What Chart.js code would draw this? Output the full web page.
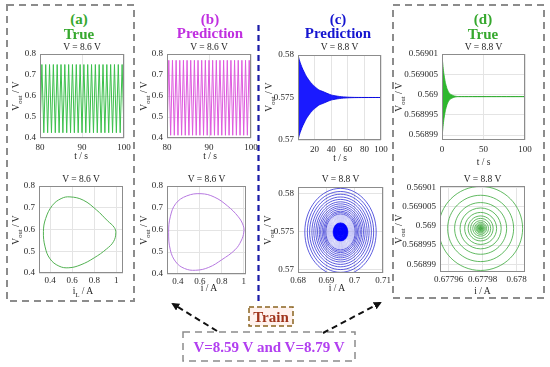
<!DOCTYPE html>
<html>
<head>
<meta charset="utf-8">
<script src="https://cdn.jsdelivr.net/npm/chart.js@4.4.1/dist/chart.umd.min.js"></script>
<style>
  html, body { margin: 0; padding: 0; background: #fff; }
  #fig { position: relative; width: 550px; height: 367px; overflow: hidden; font-family: "Liberation Serif", "DejaVu Serif", serif; }
  #fig canvas, #fig svg { position: absolute; left: 0; top: 0; }
  .lbl { position: absolute; transform: translate(-50%, -50%); white-space: nowrap; color: #262626; font-size: 9.5px; line-height: 1; }
  .ylab { transform: translate(-50%, -50%) rotate(-90deg); }
  .head { position: absolute; transform: translate(-50%, -50%); white-space: nowrap; font-weight: bold; font-size: 15px; line-height: 1; }
  sub { font-size: 70%; vertical-align: -0.35em; line-height: 0; }
</style>
</head>
<body>
<div id="fig">
  <svg width="550" height="367">
    <defs>
      <marker id="head" markerWidth="8" markerHeight="8" refX="6" refY="4" orient="auto" markerUnits="userSpaceOnUse">
        <path d="M0,0 L8,4 L0,8 z" fill="#111"/>
      </marker>
    </defs>
    <rect x="7" y="5" width="127" height="296" fill="none" stroke="#8c8c8c" stroke-width="2" stroke-dasharray="7 5"/>
    <rect x="393" y="5" width="151" height="293" fill="none" stroke="#8c8c8c" stroke-width="2" stroke-dasharray="7 5"/>
    <line x1="258.5" y1="25" x2="258.5" y2="302" stroke="#1c1ca8" stroke-width="2.2" stroke-dasharray="6 4"/>
    <rect x="249" y="307" width="44" height="19" fill="#fff2ee" stroke="#8a6420" stroke-width="1.5" stroke-dasharray="5 3"/>
    <rect x="183" y="332" width="172" height="29" fill="none" stroke="#8c8c8c" stroke-width="1.5" stroke-dasharray="7 5"/>
    <line x1="217" y1="331" x2="173" y2="304" stroke="#111" stroke-width="2" stroke-dasharray="6 4" marker-end="url(#head)"/>
    <line x1="323" y1="333" x2="380" y2="303" stroke="#111" stroke-width="2" stroke-dasharray="6 4" marker-end="url(#head)"/>
  </svg>
</div>
<script>
// ---- data ----

// (a) true waveform, V = 8.6 V (turning points)
const tA = [80.00, 80.45, 80.91, 81.36, 81.82, 82.27, 82.73, 83.18, 83.64, 84.09, 84.55, 85.00, 85.45, 85.91, 86.36,
            86.82, 87.27, 87.73, 88.18, 88.64, 89.09, 89.55, 90.00, 90.45, 90.91, 91.36, 91.82, 92.27, 92.73, 93.18,
            93.64, 94.09, 94.55, 95.00, 95.45, 95.91, 96.36, 96.82, 97.27, 97.73, 98.18, 98.64, 99.09, 99.55, 100.00];
const vA = [0.425, 0.75, 0.425, 0.75, 0.425, 0.75, 0.425, 0.75, 0.425, 0.75, 0.425, 0.75, 0.425, 0.75, 0.425,
            0.75, 0.425, 0.75, 0.425, 0.75, 0.425, 0.75, 0.425, 0.75, 0.425, 0.75, 0.425, 0.75, 0.425, 0.75,
            0.425, 0.75, 0.425, 0.75, 0.425, 0.75, 0.425, 0.75, 0.425, 0.75, 0.425, 0.75, 0.425, 0.75, 0.425];

// (b) predicted waveform, V = 8.6 V
const tB = [80.00, 80.43, 80.87, 81.30, 81.74, 82.17, 82.61, 83.04, 83.48, 83.91, 84.35, 84.78, 85.22, 85.65, 86.09, 86.52,
            86.96, 87.39, 87.83, 88.26, 88.70, 89.13, 89.57, 90.00, 90.43, 90.87, 91.30, 91.74, 92.17, 92.61, 93.04, 93.48,
            93.91, 94.35, 94.78, 95.22, 95.65, 96.09, 96.52, 96.96, 97.39, 97.83, 98.26, 98.70, 99.13, 99.57, 100.00];
const vB = [0.413, 0.77, 0.413, 0.77, 0.413, 0.77, 0.413, 0.77, 0.413, 0.77, 0.413, 0.77, 0.413, 0.77, 0.413, 0.77,
            0.413, 0.77, 0.413, 0.77, 0.413, 0.77, 0.413, 0.77, 0.413, 0.77, 0.413, 0.77, 0.413, 0.77, 0.413, 0.77,
            0.413, 0.77, 0.413, 0.77, 0.413, 0.77, 0.413, 0.77, 0.413, 0.77, 0.413, 0.77, 0.413, 0.77, 0.413];

// (c) predicted, V = 8.8 V: envelope of the decaying oscillation
const tC = [0, 2, 5, 10, 15, 20, 25, 30, 40, 50, 60, 70, 100];
const vCHigh = [0.5800, 0.5793, 0.5785, 0.5775, 0.5768, 0.5763, 0.5759, 0.5757, 0.5753, 0.57512, 0.57504, 0.57501, 0.575];
const vCLow  = [0.5700, 0.5707, 0.5715, 0.5725, 0.5732, 0.5737, 0.5741, 0.5743, 0.5747, 0.57488, 0.57496, 0.57499, 0.575];

// (d) true, V = 8.8 V: envelope
const tD = [0, 2, 4, 6, 8, 10, 15, 20, 100];
const vDHigh = [0.5690095, 0.5690055, 0.569003, 0.5690015, 0.5690006, 0.5690001, 0.56899965, 0.5689995, 0.5689995];
const vDLow  = [0.5689895, 0.5689935, 0.568996, 0.5689975, 0.5689984, 0.5689989, 0.56899935, 0.5689995, 0.5689995];

// phase loops, V = 8.6 V (closed curves, first point not repeated)
const iLoopA = [0.58, 0.70, 0.82, 0.92, 0.98, 0.995, 0.975, 0.91, 0.80, 0.68, 0.57, 0.48, 0.40, 0.355, 0.34, 0.36, 0.42, 0.50];
const vLoopA = [0.750, 0.735, 0.69, 0.64, 0.61, 0.585, 0.545, 0.51, 0.47, 0.438, 0.424, 0.432, 0.465, 0.52, 0.59, 0.65, 0.71, 0.742];
const iLoopB = [0.61, 0.73, 0.85, 0.95, 0.995, 1.0, 0.975, 0.92, 0.80, 0.68, 0.56, 0.46, 0.38, 0.33, 0.315, 0.33, 0.38, 0.48];
const vLoopB = [0.765, 0.75, 0.71, 0.66, 0.62, 0.59, 0.55, 0.51, 0.465, 0.43, 0.417, 0.425, 0.455, 0.51, 0.59, 0.66, 0.72, 0.755];

// rings of the V = 8.8 V portraits: centre and half-extent of each ring
const centerC = [0.695, 0.575];
const ringICOuter = [0.0126, 0.0117, 0.0109, 0.0101, 0.0094, 0.0087, 0.0081, 0.0075, 0.0070, 0.0065, 0.0060, 0.0056, 0.0052];
const ringVCOuter = [0.00572, 0.00531, 0.00495, 0.00459, 0.00427, 0.00395, 0.00368, 0.00341, 0.00318, 0.00295, 0.00272, 0.00254, 0.00236];
const ringICHalo = [0.0049, 0.0046, 0.0043, 0.0040, 0.0037, 0.0034, 0.0031, 0.0028];
const ringVCHalo = [0.00222, 0.00209, 0.00195, 0.00182, 0.00168, 0.00154, 0.00141, 0.00127];
const ringICCore = [0.0026, 0.0024, 0.0022, 0.0020, 0.0018, 0.0016, 0.0014, 0.0012, 0.0010, 0.0008, 0.0006, 0.0004, 0.0002];
const ringVCCore = [0.00118, 0.00109, 0.00100, 0.00091, 0.00082, 0.00073, 0.00064, 0.00054, 0.00045, 0.00036, 0.00027, 0.00018, 0.00009];
const centerD = [0.6779789, 0.5689993];
const ringID = [2.47e-5, 1.94e-5, 1.53e-5, 1.21e-5, 9.4e-6, 7.35e-6, 5.9e-6, 4.6e-6, 3.5e-6, 2.8e-6, 2.2e-6, 1.7e-6, 1.3e-6, 1.0e-6, 7.6e-7, 5.9e-7, 3.5e-7, 1.8e-7];
const ringVD = [1.09e-5, 8.6e-6, 6.7e-6, 5.3e-6, 4.15e-6, 3.24e-6, 2.6e-6, 2.0e-6, 1.56e-6, 1.22e-6, 9.6e-7, 7.5e-7, 5.7e-7, 4.4e-7, 3.4e-7, 2.6e-7, 1.6e-7, 8e-8];

// tick values and labels
const tickT80 = [80, 90, 100],        lblT80 = ['80', '90', '100'];
const tickT20 = [20, 40, 60, 80, 100], lblT20 = ['20', '40', '60', '80', '100'];
const tickT50 = [0, 50, 100],          lblT50 = ['0', '50', '100'];
const tickV4 = [0.4, 0.5, 0.6, 0.7, 0.8], lblV4 = ['0.4', '0.5', '0.6', '0.7', '0.8'];
const tickVC = [0.57, 0.575, 0.58],    lblVC = ['0.57', '0.575', '0.58'];
const tickVD = [0.56899, 0.568995, 0.569, 0.569005, 0.56901];
const lblVD = ['0.56899', '0.568995', '0.569', '0.569005', '0.56901'];
const tickI4 = [0.4, 0.6, 0.8, 1],     lblI4 = ['0.4', '0.6', '0.8', '1'];
const tickIC = [0.68, 0.69, 0.7, 0.71], lblIC = ['0.68', '0.69', '0.7', '0.71'];
const tickID = [0.67796, 0.67798, 0.678], lblID = ['0.67796', '0.67798', '0.678'];

// ---- drawing ----
Chart.defaults.font.family = 'Liberation Serif';
const fig = document.getElementById('fig');
const ML = 48, MR = 14, MT = 8, MB = 22;

const framePlugin = {
  id: 'frame',
  afterDraw(chart) {
    const a = chart.chartArea, ctx = chart.ctx;
    ctx.save();
    ctx.strokeStyle = '#8c8c8c';
    ctx.lineWidth = 1;
    ctx.strokeRect(a.left + 0.5, a.top + 0.5, a.right - a.left - 1, a.bottom - a.top - 1);
    ctx.restore();
  }
};

function axis(min, max, ticks, labels, isX, pad) {
  return {
    type: 'linear', min: min, max: max,
    afterBuildTicks: s => { s.ticks = ticks.map(v => ({ value: v })); },
    afterFit: s => {
      if (isX) s.height = MB; else s.width = ML;
      s.paddingLeft = s.paddingRight = s.paddingTop = s.paddingBottom = 0;
    },
    ticks: { autoSkip: false, maxRotation: 0, padding: pad === undefined ? 4 : pad, color: '#262626',
             font: { size: 9 }, callback: (v, i) => labels[i] },
    grid: { color: '#e4e4e4', lineWidth: 1, drawTicks: false },
    border: { display: false }
  };
}

function zip(xs, ys) { return xs.map((x, i) => ({ x: x, y: ys[i] })); }

// closed curve: wrap one point at each end so the spline is smooth all round,
// the two wrap segments are hidden with hideWrap()
function closedLoop(xs, ys) {
  const n = xs.length;
  const idx = [n - 1].concat(xs.map((_, i) => i), [0, 1]);
  return idx.map(i => ({ x: xs[i], y: ys[i] }));
}
function hideWrap(stride, n) {
  return { borderColor: ctx => {
    const j = ctx.p0DataIndex % stride;
    return (j === 0 || j === n + 1) ? 'rgba(0,0,0,0)' : undefined;
  } };
}
// each ring = its right, top, left and bottom extreme, gaps between rings
function ringLoops(c, ringI, ringV) {
  let pts = [];
  ringI.forEach((a, k) => {
    const b = ringV[k];
    pts = pts.concat(closedLoop([c[0] + a, c[0], c[0] - a, c[0]], [c[1], c[1] + b, c[1], c[1] - b]),
                     [{ x: c[0], y: null }]);
  });
  return pts;
}
function ringSet(c, ringI, ringV, color, width) {
  return { data: ringLoops(c, ringI, ringV), borderColor: color, borderWidth: width, tension: 0.55,
           fill: false, spanGaps: false, segment: hideWrap(8, 4) };
}
function loopSet(xs, ys, color) {
  return { data: closedLoop(xs, ys), borderColor: color, borderWidth: 1, tension: 0.4,
           fill: false, segment: hideWrap(xs.length + 3, xs.length) };
}

function makeChart(rect, datasets, xs, ys) {
  const c = document.createElement('canvas');
  const w = rect[2] + ML + MR, h = rect[3] + MT + MB;
  c.width = w; c.height = h;
  c.style.left = (rect[0] - ML) + 'px';
  c.style.top = (rect[1] - MT) + 'px';
  c.style.width = w + 'px'; c.style.height = h + 'px';
  fig.appendChild(c);
  new Chart(c, {
    type: 'line',
    data: { datasets: datasets },
    options: {
      responsive: false, animation: false, devicePixelRatio: 1,
      layout: { padding: { left: 0, top: MT, right: MR, bottom: 0 } },
      plugins: { legend: { display: false }, tooltip: { enabled: false } },
      elements: { point: { radius: 0 }, line: { capBezierPoints: false } },
      scales: { x: xs, y: ys }
    },
    plugins: [framePlugin]
  });
}

function put(html, x, y, cls, color) {
  const d = document.createElement('div');
  d.className = cls;
  d.innerHTML = html;
  d.style.left = x + 'px';
  d.style.top = y + 'px';
  if (color) d.style.color = color;
  fig.appendChild(d);
}

const green = '#36a82e', purple = '#c02fe0', blue = '#1515d0';

// top row: time series
makeChart([40, 54, 84, 84],
  [{ data: zip(tA, vA), borderColor: '#3cc04c', borderWidth: 1, tension: 0, fill: false }],
  axis(80, 100, tickT80, lblT80, true), axis(0.4, 0.8, tickV4, lblV4, false));
makeChart([167, 54, 84, 84],
  [{ data: zip(tB, vB), borderColor: '#de5ade', borderWidth: 1, tension: 0, fill: false }],
  axis(80, 100, tickT80, lblT80, true), axis(0.4, 0.8, tickV4, lblV4, false));
makeChart([298, 55, 83, 85],
  [{ data: zip(tC, vCHigh), borderColor: '#0000e0', borderWidth: 0.8, tension: 0.2, fill: false },
   { data: zip(tC, vCLow), borderColor: '#0000e0', borderWidth: 0.8, tension: 0.2, fill: '-1', backgroundColor: '#1a1aff' }],
  axis(0, 100, tickT20, lblT20, true), axis(0.57, 0.58, tickVC, lblVC, false));
makeChart([442, 54, 83, 86],
  [{ data: zip(tD, vDHigh), borderColor: '#28a828', borderWidth: 0.8, tension: 0.2, fill: false },
   { data: zip(tD, vDLow), borderColor: '#28a828', borderWidth: 0.8, tension: 0.2, fill: '-1', backgroundColor: '#2eb82e' }],
  axis(0, 100, tickT50, lblT50, true), axis(0.5689888, 0.56901, tickVD, lblVD, false));

// bottom row: phase portraits
makeChart([39, 186, 84, 87], [loopSet(iLoopA, vLoopA, '#52b152')],
  axis(0.3, 1.06, tickI4, lblI4, true, 2), axis(0.4, 0.8, tickV4, lblV4, false));
makeChart([167, 186, 79, 88], [loopSet(iLoopB, vLoopB, '#b678e0')],
  axis(0.3, 1.02, tickI4, lblI4, true, 2), axis(0.4, 0.8, tickV4, lblV4, false));
makeChart([298, 187, 85, 86],
  [ringSet(centerC, ringICOuter, ringVCOuter, '#3434d6', 0.8),
   ringSet(centerC, ringICHalo, ringVCHalo, '#a4a4f4', 0.6),
   ringSet(centerC, ringICCore, ringVCCore, '#0000ff', 1.3)],
  axis(0.68, 0.71, tickIC, lblIC, true, 2), axis(0.5696, 0.5809, tickVC, lblVC, false));
makeChart([440, 186, 85, 86],
  [ringSet(centerD, ringID, ringVD, '#3aa83a', 0.8)],
  axis(0.677955, 0.678005, tickID, lblID, true, 2), axis(0.568988, 0.5690103, tickVD, lblVD, false));

// headings
put('(a)', 79, 19, 'head', green);       put('True', 79, 34, 'head', green);
put('(b)', 210, 19, 'head', purple);     put('Prediction', 210, 33, 'head', purple);
put('(c)', 338, 19, 'head', blue);       put('Prediction', 338, 33, 'head', blue);
put('(d)', 483, 19, 'head', green);      put('True', 483, 34, 'head', green);

// subplot titles
put('V = 8.6 V', 82, 47.5, 'lbl');   put('V = 8.6 V', 209, 47.5, 'lbl');
put('V = 8.8 V', 339.5, 47.5, 'lbl'); put('V = 8.8 V', 483.5, 47.5, 'lbl');
put('V = 8.6 V', 81, 180, 'lbl');    put('V = 8.6 V', 206.5, 180, 'lbl');
put('V = 8.8 V', 340.5, 180, 'lbl'); put('V = 8.8 V', 482.5, 180, 'lbl');

// axis titles
const vout = 'V<sub>out</sub> / V';
put(vout, 17, 96, 'lbl ylab');  put(vout, 145, 96, 'lbl ylab');
put(vout, 270, 97, 'lbl ylab'); put(vout, 400, 97, 'lbl ylab');
put(vout, 17, 230, 'lbl ylab'); put(vout, 145, 230, 'lbl ylab');
put(vout, 269, 230, 'lbl ylab'); put(vout, 400, 229, 'lbl ylab');
put('t / s', 81, 157, 'lbl');    put('t / s', 210, 157, 'lbl');
put('t / s', 340, 159, 'lbl');   put('t / s', 483.5, 163, 'lbl');
put('i<sub>L</sub> / A', 83, 291.5, 'lbl'); put('i / A', 209, 289, 'lbl');
put('i / A', 337, 289, 'lbl');              put('i / A', 482.5, 291.5, 'lbl');

// training note
put('Train', 271, 317, 'head', '#a0341c');
put('V=8.59 V and V=8.79 V', 269, 346.5, 'head', '#b23ff0');
</script>
</body>
</html>
